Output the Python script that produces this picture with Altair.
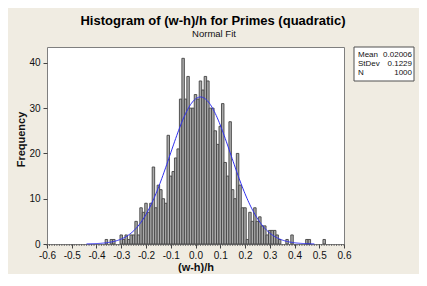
import altair as alt
import pandas as pd

TITLE = "Histogram of (w-h)/h for Primes (quadratic)"
SUBTITLE = "Normal Fit"
X_TITLE = "(w-h)/h"
Y_TITLE = "Frequency"

BIN_WIDTH = 0.01
FIRST_MIDPOINT = -0.36
COUNTS = [
    1, 0, 1, 1, 0, 0, 2, 1, 2, 1, 2, 2,      # -0.36 .. -0.25
    5, 2, 8, 7, 9, 7, 9,                     # -0.24 .. -0.18
    17, 8, 13, 12, 10, 9,                    # -0.17 .. -0.12
    24, 15, 16, 19, 21,                      # -0.11 .. -0.07
    32, 41, 32, 37, 30, 30,                  # -0.06 .. -0.01
    33, 32, 36, 34, 37, 36,                  #  0.00 ..  0.05
    30, 30, 25, 22, 26, 31,                  #  0.06 ..  0.11
    18, 15, 27, 12, 10,                      #  0.12 ..  0.16
    20, 13, 8, 8, 1,                         #  0.17 ..  0.21
    7, 5, 8, 5, 6, 4, 4,                     #  0.22 ..  0.28
    2, 3, 3, 3, 2, 1,                        #  0.29 ..  0.34
    0, 0, 1, 0, 2, 0, 0, 0, 0, 0, 1, 1,      #  0.35 ..  0.46
    0, 0, 0, 0, 0, 1,                        #  0.47 ..  0.52
]

X_TICKS = [-0.6, -0.5, -0.4, -0.3, -0.2, -0.1, 0.0, 0.1, 0.2, 0.3, 0.4, 0.5, 0.6]
Y_TICKS = [0, 10, 20, 30, 40]
X_DOMAIN = [-0.6, 0.6]
Y_DOMAIN = [0, 43.5]

STAT_NAMES = ["Mean", "StDev", "N"]
STAT_VALUES = ["0.02006", "0.1229", "1000"]
MEAN = 0.02006
STDEV = 0.1229
N = 1000
CURVE_RANGE = [-0.44, 0.48]

FONT = "Liberation Sans"
BG = "#F0ECE2"
TEXT = "#111111"

mids = [round(FIRST_MIDPOINT + i * BIN_WIDTH, 2) for i in range(len(COUNTS))]
bins = pd.DataFrame({"mid": mids, "count": COUNTS})
minor = pd.DataFrame({"t": [round(-0.6 + i * BIN_WIDTH, 2) for i in range(121)]})

W, H = 297, 197

x_scale = alt.Scale(domain=X_DOMAIN, nice=False, zero=False)
y_scale = alt.Scale(domain=Y_DOMAIN, nice=False)

x_axis = alt.Axis(
    values=X_TICKS,
    labelExpr="replace(format(datum.value, '.1f'), '\u2212', '-')",
    labelOverlap=False, labelBound=False, labelFlush=False,
    grid=False, domain=False, tickSize=4, tickColor="#444444",
    labelPadding=2, labelFont=FONT, labelFontSize=10, labelColor=TEXT,
    titleFont=FONT, titleFontSize=11, titleFontWeight="bold", titleColor=TEXT,
    titleX=W / 2, titleY=23, titleBaseline="middle", titleAlign="center",
)
y_axis = alt.Axis(
    values=Y_TICKS, format="d", labelOverlap=False,
    grid=False, domain=False, tickSize=4, tickColor="#444444",
    labelPadding=3, labelFont=FONT, labelFontSize=10, labelColor=TEXT,
    titleFont=FONT, titleFontSize=11, titleFontWeight="bold", titleColor=TEXT,
    titleAngle=270, titleX=-26, titleY=92, titleBaseline="middle", titleAlign="center",
)

bars = (
    alt.Chart(bins)
    .transform_filter("datum.count > 0")
    .transform_calculate(lo=f"datum.mid - {BIN_WIDTH / 2}", hi=f"datum.mid + {BIN_WIDTH / 2}")
    .mark_rect(fill="#ABABAB", stroke="#444444", strokeWidth=0.9)
    .encode(
        x=alt.X("lo:Q", scale=x_scale, axis=x_axis, title=X_TITLE),
        x2="hi:Q",
        y=alt.Y("count:Q", scale=y_scale, axis=y_axis, title=Y_TITLE),
        y2=alt.datum(0),
    )
)

minor_ticks = (
    alt.Chart(minor)
    .mark_rule(color="#555555", strokeWidth=0.8)
    .encode(
        x=alt.X("t:Q", scale=x_scale, axis=x_axis, title=X_TITLE),
        y=alt.value(H),
        y2=alt.value(H + 2),
    )
)

curve = (
    alt.Chart(alt.sequence(CURVE_RANGE[0], CURVE_RANGE[1] + 1e-6, 0.004, as_="v"))
    .transform_calculate(
        f=f"{N * BIN_WIDTH} / ({STDEV} * sqrt(2 * PI)) * exp(-0.5 * pow((datum.v - {MEAN}) / {STDEV}, 2))"
    )
    .mark_line(color="#2F2FEF", strokeWidth=1)
    .encode(
        x=alt.X("v:Q", scale=x_scale, axis=x_axis, title=X_TITLE),
        y=alt.Y("f:Q", scale=y_scale, axis=y_axis, title=Y_TITLE),
    )
)

one = pd.DataFrame({"title": [TITLE], "subtitle": [SUBTITLE]})

title_text = alt.Chart(one).mark_text(
    font=FONT, fontSize=13, fontWeight="bold", color="#000000", align="center", baseline="middle"
).encode(text="title:N", x=alt.value(166), y=alt.value(-26.5))

subtitle_text = alt.Chart(one).mark_text(
    font=FONT, fontSize=9.5, color=TEXT, align="center", baseline="middle"
).encode(text="subtitle:N", x=alt.value(167), y=alt.value(-13.5))

legend_box = alt.Chart(one).mark_rect(fill="white", stroke="#505050", strokeWidth=1).encode(
    x=alt.value(307), x2=alt.value(367), y=alt.value(0), y2=alt.value(34)
)

legend_layers = []
for i, (name, val) in enumerate(zip(STAT_NAMES, STAT_VALUES)):
    row = pd.DataFrame({"name": [name], "val": [val]})
    yv = 8 + 9.2 * i
    legend_layers.append(
        alt.Chart(row).mark_text(font=FONT, fontSize=8, color=TEXT, align="left", baseline="middle")
        .encode(text="name:N", x=alt.value(311), y=alt.value(yv))
    )
    legend_layers.append(
        alt.Chart(row).mark_text(font=FONT, fontSize=8, color=TEXT, align="right", baseline="middle")
        .encode(text="val:N", x=alt.value(365), y=alt.value(yv))
    )

chart = (
    alt.layer(bars, minor_ticks, curve, title_text, subtitle_text, legend_box, *legend_layers)
    .properties(
        width=W, height=H,
        autosize=alt.AutoSizeParams(type="none"),
        padding={"left": 39, "top": 39, "right": 75, "bottom": 30},
        background=BG,
    )
    .configure_view(fill="white", stroke="#7F7F7F", strokeWidth=1)
)

chart.save("out.html", embed_options={"renderer": "svg", "actions": False})
